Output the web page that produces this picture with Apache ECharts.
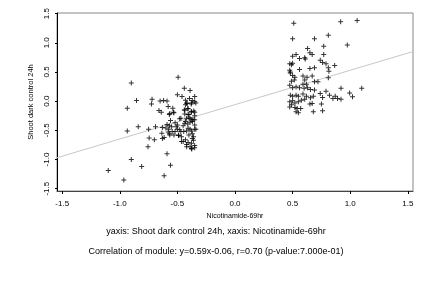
<!DOCTYPE html>
<html>
<head>
<meta charset="utf-8">
<script src="https://cdn.jsdelivr.net/npm/echarts@6/dist/echarts.min.js"></script>
<style>
  html, body { margin: 0; padding: 0; background: #fff; }
  #chart { width: 432px; height: 288px; }
</style>
</head>
<body>
<div id="chart"></div>
<script>
// points of the left (low) cluster, [x, y]
const lowCluster = [
  [-0.494,0.41],[-0.90,0.31],[-0.44,0.22],[-0.39,0.18],[-0.50,0.11],[-0.46,0.08],[-0.35,0.08],
  [-0.855,0.01],[-0.72,0.03],[-0.65,0.00],[-0.62,0.01],[-0.59,0.00],[-0.725,-0.05],[-0.37,0.01],
  [-0.42,-0.03],[-0.43,-0.06],[-0.38,-0.05],[-0.34,-0.03],[-0.935,-0.12],[-0.58,-0.09],[-0.66,-0.16],
  [-0.64,-0.19],[-0.54,-0.12],[-0.535,-0.19],[-0.57,-0.23],[-0.436,-0.15],[-0.41,-0.13],[-0.38,-0.18],
  [-0.35,-0.19],[-0.436,-0.22],[-0.40,-0.23],[-0.48,-0.30],[-0.40,-0.29],[-0.375,-0.32],[-0.35,-0.32],
  [-0.43,-0.35],[-0.56,-0.33],[-0.39,-0.36],[-0.52,-0.37],[-0.59,-0.40],[-0.57,-0.42],[-0.50,-0.41],
  [-0.45,-0.42],[-0.35,-0.41],[-0.34,-0.48],[-0.39,-0.48],[-0.84,-0.44],[-0.75,-0.48],[-0.69,-0.44],
  [-0.63,-0.45],[-0.60,-0.46],[-0.575,-0.48],[-0.935,-0.51],[-0.545,-0.52],[-0.50,-0.48],[-0.47,-0.52],
  [-0.42,-0.51],[-0.635,-0.55],[-0.57,-0.56],[-0.53,-0.58],[-0.49,-0.59],[-0.37,-0.56],[-0.36,-0.61],
  [-0.745,-0.63],[-0.70,-0.66],[-0.63,-0.64],[-0.465,-0.69],[-0.43,-0.66],[-0.36,-0.67],[-0.42,-0.745],
  [-0.39,-0.78],[-0.375,-0.82],[-0.35,-0.80],[-0.755,-0.78],[-0.59,-0.90],[-0.90,-1.00],[-0.56,-1.10],
  [-0.81,-1.12],[-1.10,-1.19],[-0.615,-1.28],[-0.965,-1.35],
  [-0.43,0.017],[-0.395,0.046],[-0.416,-0.04],[-0.378,-0.03],[-0.35,-0.01],[-0.44,-0.15],[-0.407,-0.125],
  [-0.378,-0.18],[-0.358,-0.17],[-0.566,-0.21],[-0.53,-0.20],[-0.407,-0.23],[-0.35,-0.25],[-0.47,-0.295],
  [-0.42,-0.295],[-0.39,-0.295],[-0.364,-0.32],[-0.51,-0.44],[-0.55,-0.44],[-0.436,-0.38],[-0.41,-0.39],
  [-0.37,-0.35],[-0.58,-0.53],[-0.52,-0.52],[-0.48,-0.49],[-0.445,-0.52],[-0.407,-0.465],[-0.378,-0.51],
  [-0.35,-0.48],[-0.615,-0.625],[-0.566,-0.58],[-0.49,-0.58],[-0.465,-0.61],[-0.40,-0.58],[-0.37,-0.64],
  [-0.45,-0.69],[-0.407,-0.71],[-0.378,-0.72],[-0.42,-0.78],[-0.378,-0.81],[-0.35,-0.76]
];

// points of the right (high) cluster, [x, y]
const highCluster = [
  [0.51,1.335],[0.917,1.36],[1.06,1.38],[0.50,1.07],[0.69,1.07],[0.81,1.13],[0.975,0.96],[0.77,0.94],
  [0.63,0.90],[0.65,0.83],[0.67,0.80],[0.77,0.80],[0.50,0.77],[0.53,0.80],[0.56,0.73],[0.605,0.745],
  [0.61,0.72],[0.74,0.70],[0.76,0.66],[0.79,0.64],[0.865,0.61],[0.475,0.64],[0.49,0.625],[0.50,0.65],
  [0.81,0.57],[0.815,0.51],[0.475,0.53],[0.48,0.48],[0.56,0.54],[0.65,0.56],[0.69,0.57],[0.50,0.44],
  [0.52,0.41],[0.59,0.43],[0.605,0.36],[0.625,0.41],[0.67,0.43],[0.49,0.34],[0.69,0.33],[0.72,0.33],
  [0.81,0.40],[0.59,0.29],[0.62,0.29],[0.475,0.27],[0.50,0.23],[0.53,0.24],[0.56,0.23],[0.60,0.22],
  [0.63,0.23],[0.655,0.20],[0.69,0.19],[0.79,0.17],[0.92,0.22],[0.995,0.14],[1.10,0.22],[0.48,0.10],
  [0.50,0.085],[0.53,0.10],[0.55,0.085],[0.59,0.12],[0.62,0.085],[0.655,0.056],[0.68,0.085],[0.74,0.13],
  [0.76,0.063],[0.82,0.10],[0.85,0.046],[0.87,0.085],[0.89,0.046],[0.92,0.03],[1.02,0.073],[0.475,-0.01],
  [0.50,0.005],[0.52,-0.03],[0.55,-0.01],[0.576,0.017],[0.605,0.03],[0.65,-0.05],[0.67,-0.04],[0.75,-0.05],
  [0.475,-0.10],[0.52,-0.11],[0.54,-0.125],[0.57,-0.125],[0.53,-0.18],[0.55,-0.20],[0.68,-0.18],
  [0.76,-0.165],[0.49,-0.06],[0.48,0.50],[0.515,0.36]
];

// fitted line y = 0.59x - 0.06, endpoints at the plot edges
const fitX = [-1.545, 1.545];
const fitY = [-0.97, 0.85];

const tickValues = [-1.5, -1.0, -0.5, 0.0, 0.5, 1.0, 1.5];

const xTitle = 'Nicotinamide-69hr';
const yTitle = 'Shoot dark control 24h';
const caption1 = 'yaxis: Shoot dark control 24h, xaxis: Nicotinamide-69hr';
const caption2 = 'Correlation of module: y=0.59x-0.06, r=0.70 (p-value:7.000e-01)';

const FONT = 'Liberation Sans';
const plus = 'path://M0,2h5v1h-5zM2,0h1v5h-1z';

const chart = echarts.init(document.getElementById('chart'), null, { renderer: 'canvas' });

chart.setOption({
  animation: false,
  backgroundColor: '#fff',
  textStyle: { fontFamily: FONT },
  title: [
    {
      text: caption1,
      left: 'center',
      top: 227,
      padding: 0,
      textStyle: { fontSize: 9, fontWeight: 'normal', color: '#000', fontFamily: FONT }
    },
    {
      text: caption2,
      left: 'center',
      top: 247,
      padding: 0,
      textStyle: { fontSize: 9, fontWeight: 'normal', color: '#000', fontFamily: FONT }
    }
  ],
  grid: {
    left: 57,
    right: 19,
    top: 13,
    bottom: 97,
    show: true,
    borderColor: '#888',
    borderWidth: 1
  },
  xAxis: {
    type: 'value',
    min: -1.545,
    max: 1.545,
    name: xTitle,
    nameLocation: 'middle',
    nameGap: 20,
    nameTextStyle: { fontSize: 7, color: '#000', fontFamily: FONT },
    axisLine: { show: true, onZero: false, lineStyle: { color: '#444', width: 1 } },
    axisTick: { show: true, length: 3, customValues: tickValues, lineStyle: { color: '#000' } },
    axisLabel: {
      customValues: tickValues,
      margin: 9,
      fontSize: 8,
      color: '#000',
      fontFamily: FONT,
      formatter: v => v.toFixed(1)
    },
    splitLine: { show: false }
  },
  yAxis: {
    type: 'value',
    min: -1.54,
    max: 1.51,
    name: yTitle,
    nameLocation: 'middle',
    nameGap: 18,
    nameTextStyle: { fontSize: 7.5, color: '#000', fontFamily: FONT },
    axisLine: { show: true, onZero: false, lineStyle: { color: '#000', width: 1 } },
    axisTick: { show: true, length: 2, customValues: tickValues, lineStyle: { color: '#000' } },
    axisLabel: {
      customValues: tickValues,
      rotate: 90,
      margin: 6,
      fontSize: 8,
      color: '#000',
      fontFamily: FONT,
      formatter: v => v.toFixed(1)
    },
    splitLine: { show: false }
  },
  series: [
    {
      type: 'line',
      data: fitX.map((x, i) => [x, fitY[i]]),
      symbol: 'none',
      lineStyle: { color: '#c8c8c8', width: 1 },
      z: 1
    },
    {
      type: 'scatter',
      data: lowCluster,
      symbol: plus,
      symbolSize: 5,
      itemStyle: { color: '#000' },
      z: 2
    },
    {
      type: 'scatter',
      data: highCluster,
      symbol: plus,
      symbolSize: 5,
      itemStyle: { color: '#000' },
      z: 2
    }
  ]
});
</script>
</body>
</html>
